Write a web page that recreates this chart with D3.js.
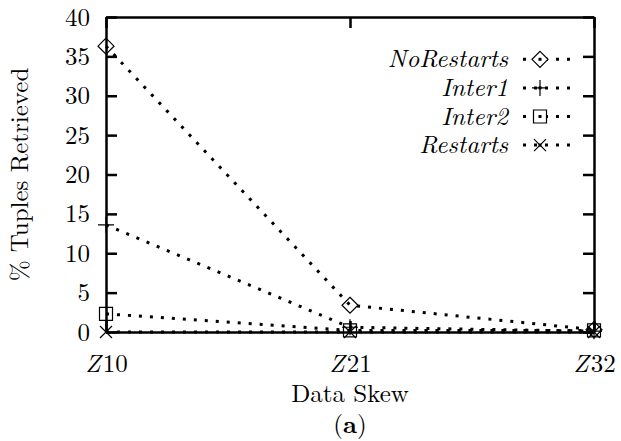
<!DOCTYPE html>
<html>
<head>
<meta charset="utf-8">
<script src="https://cdn.jsdelivr.net/npm/d3@7"></script>
<style>
  body { margin: 0; background: #fff; }
</style>
</head>
<body>
<div id="chart"></div>
<script>
// values
const categories = ["10", "21", "32"]
const seriesNames = ["NoRestarts", "Inter1", "Inter2", "Restarts"]
const noRestarts = [36.3, 3.4, 0.3]
const inter1 = [13.6, 0.6, 0.1]
const inter2 = [2.3, 0.2, 0.2]
const restarts = [0, 0, 0]
const yTicks = [0, 5, 10, 15, 20, 25, 30, 35, 40]

const seriesValues = [noRestarts, inter1, inter2, restarts]

const font = '"Latin Modern Roman", "DejaVu Serif", serif'
const fontSize = 25

const width = 621
const height = 441
const margin = { top: 17, right: 27, bottom: 109, left: 106 }
const innerWidth = width - margin.left - margin.right
const innerHeight = height - margin.top - margin.bottom

// gnuplot style point shapes
const markers = {
  NoRestarts: "M0,-8L8,0L0,8L-8,0Z",
  Inter1: "M-8,0H8M0,-8V8",
  Inter2: "M-6.5,-6.5H6.5V6.5H-6.5Z",
  Restarts: "M-6,-6L6,6M-6,6L6,-6"
}

const svg = d3.select("#chart")
  .append("svg")
    .attr("width", width)
    .attr("height", height)
    .attr("font-family", font)
    .attr("font-size", fontSize)

const chart = svg.append("g")
  .attr("transform", `translate(${margin.left}, ${margin.top})`)

const xScale = d3.scalePoint()
  .domain(categories)
  .range([0, innerWidth])

const yScale = d3.scaleLinear()
  .domain([0, 40])
  .range([innerHeight, 0])

// axes: ticks point inward, mirrored on the opposite side
const yAxis = d3.axisLeft(yScale).tickValues(yTicks).tickSizeInner(-11).tickSizeOuter(0).tickPadding(16)
const yAxisR = d3.axisRight(yScale).tickValues(yTicks).tickSizeInner(-11).tickSizeOuter(0)
const xAxis = d3.axisBottom(xScale).tickSizeInner(-11).tickSizeOuter(0)
const xAxisT = d3.axisTop(xScale).tickSizeInner(-11).tickSizeOuter(0)

const gy = chart.append("g").call(yAxis)
const gyR = chart.append("g").attr("transform", `translate(${innerWidth},0)`).call(yAxisR)
const gx = chart.append("g").attr("transform", `translate(0,${innerHeight})`).call(xAxis)
const gxT = chart.append("g").call(xAxisT)

// only the left axis keeps its own labels
gyR.selectAll(".tick text").remove()
gx.selectAll(".tick text").remove()
gxT.selectAll(".tick text").remove()

// drop the axis default 10px sans-serif so the svg font is inherited
chart.selectAll("g")
  .attr("font-size", null)
  .attr("font-family", null)

chart.selectAll(".domain, .tick line")
  .attr("stroke", "#000")
  .attr("stroke-width", 2.5)

// Z10 style labels: italic Z + upright number
gx.selectAll(".tick").append("text")
  .attr("y", 40)
  .attr("text-anchor", "middle")
  .each(function(d) {
    const t = d3.select(this)
    t.append("tspan").attr("font-style", "italic").text("Z")
    t.append("tspan").attr("dx", 2).text(d)
  })

// series lines
const lineGenerator = d3.line()
  .x((d, i) => xScale(categories[i]))
  .y(d => yScale(d))

seriesNames.forEach((name, k) => {
  const vals = seriesValues[k]
  chart.append("path")
    .attr("d", lineGenerator(vals))
    .attr("fill", "none")
    .attr("stroke", "#000")
    .attr("stroke-width", 3)
    .attr("stroke-dasharray", "3,8")

  chart.selectAll(`.pt-${k}`)
    .data(vals)
    .join("path")
      .attr("class", `pt-${k}`)
      .attr("transform", (d, i) => `translate(${xScale(categories[i])},${yScale(d)})`)
      .attr("d", markers[name])
      .attr("fill", "none")
      .attr("stroke", "#000")
      .attr("stroke-width", 1.2)
})

// legend
const legend = chart.append("g")
  .attr("transform", `translate(${innerWidth - 20}, 42.3)`)

seriesNames.forEach((name, k) => {
  const row = legend.append("g").attr("transform", `translate(0, ${k * 28.6})`)
  row.append("text")
    .attr("x", -66)
    .attr("y", 8)
    .attr("text-anchor", "end")
    .attr("font-style", "italic")
    .text(name)
  row.append("line")
    .attr("x1", -51).attr("x2", -2)
    .attr("stroke", "#000")
    .attr("stroke-width", 3)
    .attr("stroke-dasharray", "3,8")
  row.append("path")
    .attr("transform", "translate(-34,0)")
    .attr("d", markers[name])
    .attr("fill", "#fff")
    .attr("stroke", "#000")
    .attr("stroke-width", 1.2)
  row.append("rect")
    .attr("x", -35.5).attr("y", -1.5).attr("width", 3).attr("height", 3)
})

// axis titles
svg.append("text")
  .attr("transform", `translate(28, ${margin.top + innerHeight / 2}) rotate(-90)`)
  .attr("text-anchor", "middle")
  .text("% Tuples Retrieved")

svg.append("text")
  .attr("x", margin.left + innerWidth / 2)
  .attr("y", 402)
  .attr("text-anchor", "middle")
  .text("Data Skew")

const cap = svg.append("text")
  .attr("x", margin.left + innerWidth / 2)
  .attr("y", 433)
  .attr("text-anchor", "middle")
cap.append("tspan").text("(")
cap.append("tspan").attr("font-weight", "bold").text("a")
cap.append("tspan").text(")")

svg.selectAll("text")
  .attr("fill", "#000")
</script>
</body>
</html>
